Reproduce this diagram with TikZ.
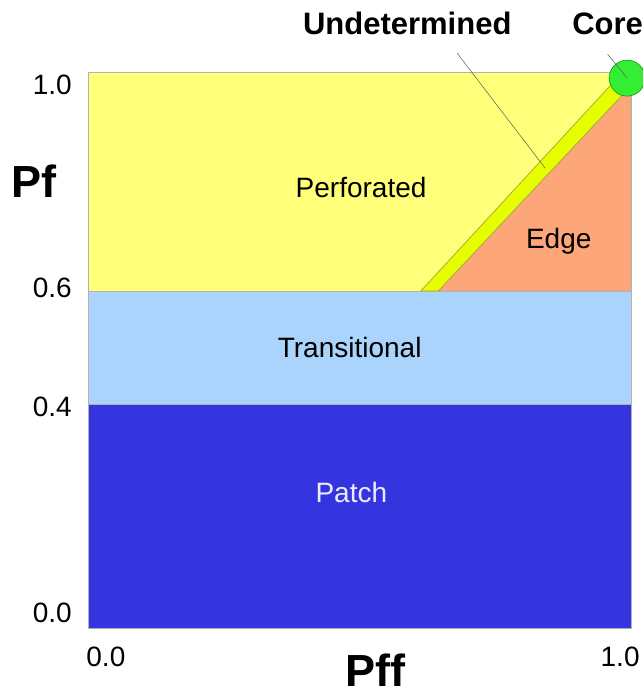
\documentclass[tikz,border=0pt]{standalone}
\usepackage{fontspec}
\setmainfont{Liberation Sans}
\definecolor{perfyellow}{RGB}{255,255,122}
\definecolor{undetyellow}{RGB}{230,255,0}
\definecolor{edgeorange}{RGB}{252,166,122}
\definecolor{transblue}{RGB}{170,212,252}
\definecolor{patchblue}{RGB}{53,53,224}
\definecolor{coregreen}{RGB}{51,238,51}

\begin{document}
\begin{tikzpicture}[x=543pt, y=556pt,
  region/.style={draw=gray!60, line width=0.8pt},
  lbl/.style={anchor=base, inner sep=0pt, font=\fontsize{28}{30}\selectfont},
  toplbl/.style={anchor=base, inner sep=0pt, font=\fontsize{31}{33}\selectfont\bfseries},
  axlbl/.style={anchor=base, inner sep=0pt, font=\fontsize{45}{48}\selectfont\bfseries},
  leader/.style={draw=gray!70!black, line width=0.5pt}]
  \useasboundingbox (-0.162, -0.1223) rectangle (1.0221, 1.1295);

  % classes
  \draw[region, fill=patchblue] (0, 0) rectangle (1, 0.403);
  \draw[region, fill=transblue] (0, 0.403) rectangle (1, 0.606);
  \draw[region, fill=perfyellow] (0, 0.606) rectangle (1, 1);
  \draw[region, fill=edgeorange] (0.645, 0.606) -- (1, 0.606) -- (1, 0.975) -- cycle;
  \draw[region, draw=olive!70, fill=undetyellow] (0.613, 0.606) -- (0.645, 0.606) -- (1, 0.975) -- (0.985, 1) -- cycle;
  \node[circle, fill=coregreen, draw=green!55!black, line width=0.5pt,
    minimum size=36pt, inner sep=0pt] (core) at (0.993, 0.989) {};

  \node[lbl] (perf) at (0.503, 0.775) {Perforated};
  \node[lbl] (edge) at (0.867, 0.683) {Edge};
  \node[lbl] (trans) at (0.482, 0.487) {Transitional};
  \node[lbl, text=white!92!blue] (patch) at (0.485, 0.225) {Patch};

  \node[toplbl] (undet) at (0.588, 1.067) {Undetermined};
  \node[toplbl] (corelbl) at (0.957, 1.067) {Core};
  \coordinate (undetpt) at (0.842, 0.827);
  \draw[leader] ([xshift=50pt, yshift=-18pt]undet.south) -- (undetpt);
  \draw[leader] ([yshift=-19pt]corelbl.south) -- (core.center);

  % axes
  \foreach \v/\y [count=\i] in {1.0/0.959, 0.6/0.594, 0.4/0.381, 0.0/0.009}
    \node[lbl, anchor=base east] (ytick\i) at (-0.0295, \y) {\v};
  \node[lbl] (xticka) at (0.033, -0.070) {0.0};
  \node[lbl] (xtickb) at (0.980, -0.070) {1.0};
  \node[axlbl] (pf) at (-0.0994, 0.775) {Pf};
  \node[axlbl] (pff) at (0.530, -0.106) {Pff};
\end{tikzpicture}
\end{document}
